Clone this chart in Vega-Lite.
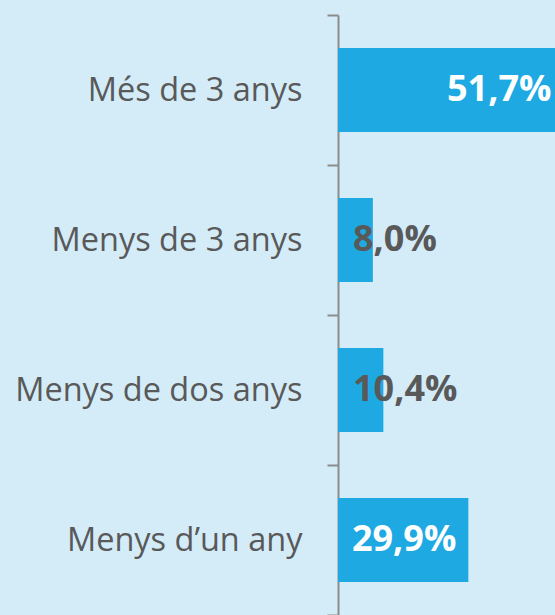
{
  "$schema": "https://vega.github.io/schema/vega-lite/v6.json",
  "autosize": "none",
  "padding": {"left": 338, "top": 15, "right": 0, "bottom": 0},
  "width": 217,
  "height": 600,
  "background": "#D3ECF8",
  "config": {"view": {"stroke": null}},
  "data": {"values": [
    {"cat": "Més de 3 anys", "value": 51.7, "label": "51,7%"},
    {"cat": "Menys de 3 anys", "value": 8.0, "label": "8,0%"},
    {"cat": "Menys de dos anys", "value": 10.4, "label": "10,4%"},
    {"cat": "Menys d’un any", "value": 29.9, "label": "29,9%"}
  ]},
  "encoding": {
    "y": {"field": "cat", "type": "nominal", "sort": null,
      "scale": {"paddingInner": 0, "paddingOuter": 0},
      "axis": {"title": null, "tickBand": "extent", "tickSize": 11, "tickWidth": 2, "tickColor": "#8C8C8C",
        "domainColor": "#8C8C8C", "domainWidth": 2, "labelPadding": 25,
        "labelFont": "Open Sans", "labelFontSize": 32.5, "labelColor": "#595959", "labelLimit": 400}},
    "x": {"field": "value", "type": "quantitative", "scale": {"domain": [0, 49.77], "nice": false}, "axis": null}
  },
  "layer": [
    {"mark": {"type": "bar", "color": "#1EA9E2", "clip": true, "height": {"band": 0.56}}},
    {"transform": [{"filter": "datum.value < 20"}],
     "mark": {"type": "text", "align": "left", "baseline": "middle", "dx": 15, "font": "Open Sans", "fontWeight": "bold", "fontSize": 36, "color": "#595959"},
     "encoding": {"x": {"datum": 0}, "text": {"field": "label"}}},
    {"transform": [{"filter": "datum.value >= 20"}],
     "mark": {"type": "text", "align": "right", "baseline": "middle", "dx": -12, "font": "Open Sans", "fontWeight": "bold", "fontSize": 36, "color": "#FFFFFF"},
     "encoding": {"text": {"field": "label"}}}
  ]
}
